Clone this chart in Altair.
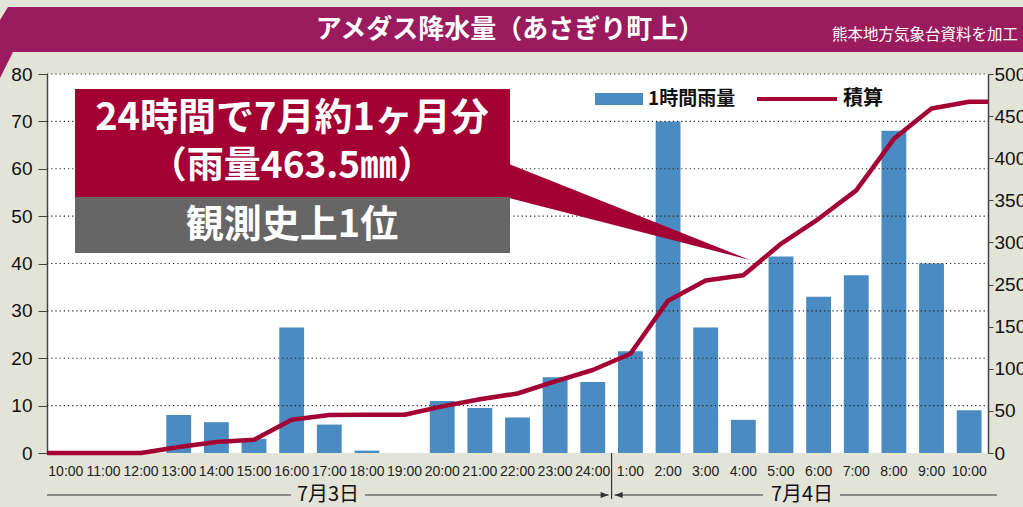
import json
import altair as alt
import pandas as pd

# ---------------- data ----------------
TIMES = ["10:00", "11:00", "12:00", "13:00", "14:00", "15:00", "16:00", "17:00",
         "18:00", "19:00", "20:00", "21:00", "22:00", "23:00", "24:00",
         "1:00", "2:00", "3:00", "4:00", "5:00", "6:00", "7:00", "8:00", "9:00", "10:00"]
RAIN = [0, 0, 0, 8, 6.5, 3, 26.5, 6, 0.5, 0, 11, 9.5, 7.5, 16, 15,
        21.5, 70, 26.5, 7, 41.5, 33, 37.5, 68, 40, 9]
LEFT_TICKS = [0, 10, 20, 30, 40, 50, 60, 70, 80]
RIGHT_LABELS = ["0", "50", "100", "150", "250", "300", "350", "400", "450", "500"]
RIGHT_MAX = 500
DATES = ["7月3日", "7月4日"]
TITLE = "アメダス降水量（あさぎり町上）"
SOURCE = "熊本地方気象台資料を加工"
NOTE1 = "24時間で7月約1ヶ月分"
NOTE2 = "（雨量463.5㎜）"
NOTE3 = "観測史上1位"
LEG_BAR = "1時間雨量"
LEG_LINE = "積算"

# ---------------- style ----------------
W, H = 941, 379
BLUE = "#4a8bc1"
CRIMSON = "#a30034"
GREY = "#666666"
BANNER = "#9a1b5e"
BG = "#e3e4d8"
CJK = "Noto Sans CJK JP"
NUM = "Liberation Sans"
NARROW = "'Liberation Sans Narrow', 'Liberation Sans'"

n = len(TIMES)
bars_df = pd.DataFrame({"i": range(n), "t": TIMES, "rain": RAIN})
bars_df["xl"] = bars_df["i"] - 0.33
bars_df["xr"] = bars_df["i"] + 0.33
bars_df["z"] = 0
cum = bars_df["rain"].cumsum()
line_df = pd.DataFrame({
    "x": [-0.5] + list(range(n)) + [n - 0.5],
    "c": [cum.iloc[0]] + list(cum) + [cum.iloc[-1]],
})
grid_df = pd.DataFrame({"g": LEFT_TICKS[1:]})
ONE = pd.DataFrame({"k": [0]})

SC_X = alt.Scale(domain=[-0.5, n - 0.5], nice=False, zero=False)
AX_X = alt.Axis(values=[k - 0.5 for k in range(n + 1)], labels=False, tickSize=10,
                tickColor="#333", tickWidth=1.2, domainColor="#444", domainWidth=1.5,
                grid=False, title=None)
SC_L = alt.Scale(domain=[0, LEFT_TICKS[-1]], nice=False)
AX_L = alt.Axis(values=LEFT_TICKS, orient="left", tickSize=9, tickColor="#444",
                domainColor="#444", domainWidth=1.5, labelFont=NUM, labelFontSize=19,
                labelColor="#111", labelPadding=6, grid=False, title=None)
k = len(RIGHT_LABELS) - 1
SC_R = alt.Scale(domain=[0, RIGHT_MAX], nice=False)
AX_R = alt.Axis(values=[j * RIGHT_MAX / k for j in range(k + 1)], orient="right",
                labelExpr=f"{json.dumps(RIGHT_LABELS)}[round(datum.value*{k}/{RIGHT_MAX})]",
                tickSize=5, tickColor="#444", domainColor="#444", domainWidth=1.5,
                labelFont=NUM, labelFontSize=19, labelColor="#111", labelPadding=1,
                grid=False, title=None)

bars = alt.Chart(bars_df).mark_rect(color=BLUE).encode(
    x=alt.X("xl:Q", scale=SC_X, axis=AX_X),
    x2="xr:Q",
    y=alt.Y("rain:Q", scale=SC_L, axis=AX_L),
    y2="z:Q",
)
grid = alt.Chart(grid_df).mark_rule(color="#222", strokeDash=[1.2, 3], strokeWidth=1.2).encode(
    y=alt.Y("g:Q", scale=SC_L, axis=None),
    x=alt.value(0), x2=alt.value(W),
)
line = alt.Chart(line_df).mark_line(color=CRIMSON, strokeWidth=4.5, strokeJoin="round").encode(
    x=alt.X("x:Q", scale=SC_X, axis=None),
    y=alt.Y("c:Q", scale=SC_R, axis=AX_R),
)
xlabels = alt.Chart(bars_df).mark_text(font=NARROW, fontSize=14, color="#222",
                                        baseline="middle", align="center").encode(
    x=alt.X("i:Q", scale=SC_X, axis=None),
    y=alt.value(H + 19),
    text="t:N",
)


def poly(path, color):
    return alt.Chart(ONE).mark_point(shape=path, size=4, filled=True, color=color,
                                     opacity=1, strokeWidth=0).encode(
        x=alt.value(0), y=alt.value(0))


def rect(x1, x2, y1, y2, color):
    return alt.Chart(ONE).mark_rect(color=color).encode(
        x=alt.value(x1), x2=alt.value(x2), y=alt.value(y1), y2=alt.value(y2))


def text(s, x, y, size, color="white", weight="bold", align="center", font=CJK):
    return alt.Chart(ONE).mark_text(text=s, font=font, fontSize=size, fontWeight=weight,
                                    color=color, align=align, baseline="middle").encode(
        x=alt.value(x), y=alt.value(y))


def hrule(x1, x2, y, color="#333", w=1.2):
    return alt.Chart(ONE).mark_rule(color=color, strokeWidth=w).encode(
        x=alt.value(x1), x2=alt.value(x2), y=alt.value(y))


DIV = W * 15 / n
DY = H + 42

layers = [
    bars, grid, line,
    # legend
    rect(548, 596, 19, 31, BLUE),
    text(LEG_BAR, 601, 25, 19, color="#111", align="left"),
    hrule(710, 790, 25, color=CRIMSON, w=4),
    text(LEG_LINE, 796, 25, 20, color="#111", align="left"),
    # annotation
    poly("M 462 90 L 703 186 L 462 124 Z", CRIMSON),
    rect(28, 463, 15, 123, CRIMSON),
    rect(28, 463, 123, 179, GREY),
    text(NOTE1, 245, 45, 38),
    text(NOTE2, 245, 93, 37),
    text(NOTE3, 245, 152, 38),
    xlabels,
    # title banner
    poly("M -39 -67 L 980 -67 L 980 -22 L -34 -22 L -47 4 L -47 -54 Z", BANNER),
    text(TITLE, 463, -44, 26),
    text(SOURCE, 785, -39, 15.5, weight="normal", align="left"),
    # dates
    hrule(0, 244, DY),
    text(DATES[0], 281, DY, 20, color="#111", weight="normal"),
    hrule(318, DIV - 3, DY),
    poly(f"M {DIV - 3} {DY} L {DIV - 11} {DY - 3} L {DIV - 11} {DY + 3} Z", "#333"),
    alt.Chart(ONE).mark_rule(color="#333", strokeWidth=1.2).encode(
        x=alt.value(DIV), y=alt.value(H), y2=alt.value(H + 46)),
    poly(f"M {DIV + 3} {DY} L {DIV + 11} {DY - 3} L {DIV + 11} {DY + 3} Z", "#333"),
    hrule(DIV + 3, 716, DY),
    text(DATES[1], 755, DY, 20, color="#111", weight="normal"),
    hrule(793, 950, DY),
]

chart = alt.layer(*layers).resolve_scale(y="independent").properties(
    width=W, height=H,
    autosize=alt.AutoSizeParams(type="none"),
    padding={"left": 47, "top": 74, "right": 35, "bottom": 54},
    background=BG,
).configure_view(stroke=None, fill="white")

chart.save("out.html", embed_options={"renderer": "svg", "actions": False})
